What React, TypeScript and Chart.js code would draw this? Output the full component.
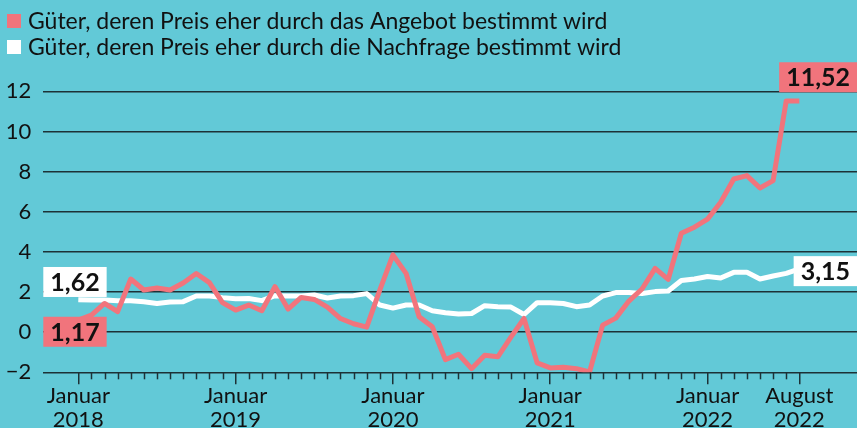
import React, { useEffect, useRef } from "react";
import { Chart, registerables } from "chart.js";

Chart.register(...registerables);

// ---- data ----
const monthIndex: number[] = Array.from({ length: 56 }, (_, i) => i); // Jan 2018 .. Aug 2022

const supplyValues: number[] = [
  0.6, 0.85, 1.43, 1.02, 2.65, 2.1, 2.2, 2.1, 2.45, 2.92, 2.47, 1.47,
  1.1, 1.35, 1.07, 2.27, 1.15, 1.73, 1.63, 1.25, 0.68, 0.42, 0.25, 2.1,
  3.85, 2.93, 0.77, 0.27, -1.37, -1.1, -1.82, -1.15, -1.23, -0.25, 0.68, -1.53,
  -1.78, -1.75, -1.82, -1.98, 0.35, 0.7, 1.55, 2.15, 3.18, 2.63, 4.93, 5.23,
  5.63, 6.47, 7.63, 7.8, 7.18, 7.55, 11.52, 11.52,
];

const demandValues: number[] = [
  1.62, 1.6, 1.6, 1.57, 1.57, 1.52, 1.43, 1.5, 1.52, 1.8, 1.8, 1.72,
  1.66, 1.68, 1.57, 1.82, 1.8, 1.8, 1.85, 1.7, 1.8, 1.82, 1.92, 1.35,
  1.2, 1.35, 1.35, 1.07, 0.97, 0.9, 0.93, 1.32, 1.27, 1.25, 0.88, 1.47,
  1.47, 1.43, 1.27, 1.35, 1.8, 1.97, 1.98, 1.93, 2.02, 2.05, 2.57, 2.65,
  2.77, 2.7, 2.98, 2.98, 2.65, 2.8, 2.93, 3.15,
];

const majorTickIndex: number[] = [0, 12, 24, 36, 48, 55];
const majorTickLabels: string[][] = [
  ["Januar", "2018"],
  ["Januar", "2019"],
  ["Januar", "2020"],
  ["Januar", "2021"],
  ["Januar", "2022"],
  ["August", "2022"],
];

const yTickValues: number[] = [-2, 0, 2, 4, 6, 8, 10, 12];

const seriesNames: string[] = [
  "Güter, deren Preis eher durch das Angebot bestimmt wird",
  "Güter, deren Preis eher durch die Nachfrage bestimmt wird",
];

// value callouts: text, anchor side, y-value of box centre, colour key
const callouts = [
  { text: "1,62", side: "left", yValue: 2.5, kind: "demand" },
  { text: "1,17", side: "left", yValue: 0.02, kind: "supply" },
  { text: "11,52", side: "right", yValue: 12.7, kind: "supply" },
  { text: "3,15", side: "right", yValue: 3.04, kind: "demand" },
];

// ---- styles ----
const BG = "#62c9d7";
const RED = "#f1747c";
const WHITE = "#ffffff";
const GRID = "#1c3136";
const TEXT = "#111111";
const FONT = "Lato, 'Noto Sans', sans-serif";

const decor = {
  id: "decor",
  beforeDraw(chart: any) {
    const { ctx, width, height } = chart;
    ctx.save();
    ctx.fillStyle = BG;
    ctx.fillRect(0, 0, width, height);
    ctx.restore();
  },
  afterDraw(chart: any) {
    const { ctx, chartArea } = chart;
    const xs = chart.scales.x;
    const ys = chart.scales.y;
    ctx.save();
    // minor month ticks
    ctx.strokeStyle = GRID;
    ctx.lineWidth = 1.5;
    for (const i of monthIndex) {
      if (majorTickIndex.includes(i)) continue;
      const px = Math.round(xs.getPixelForValue(i)) + 0.5;
      ctx.beginPath();
      ctx.moveTo(px, chartArea.bottom);
      ctx.lineTo(px, chartArea.bottom + 7);
      ctx.stroke();
    }
    // legend
    ctx.font = `23px ${FONT}`;
    ctx.textBaseline = "alphabetic";
    ctx.textAlign = "left";
    const colors = [RED, WHITE];
    const baselines = [29, 55];
    seriesNames.forEach((name, k) => {
      ctx.fillStyle = colors[k];
      ctx.fillRect(7, baselines[k] - 15, 14, 14);
      ctx.fillStyle = TEXT;
      ctx.fillText(name, 28, baselines[k]);
    });
    // callouts
    ctx.font = `bold 25px ${FONT}`;
    ctx.textBaseline = "middle";
    for (const c of callouts) {
      const tw = ctx.measureText(c.text).width;
      const bw = tw + 14;
      const bh = 30;
      const cy = ys.getPixelForValue(c.yValue);
      const bx = c.side === "left" ? chartArea.left : chartArea.right - bw;
      ctx.fillStyle = c.kind === "supply" ? RED : WHITE;
      ctx.fillRect(bx, cy - bh / 2, bw, bh);
      ctx.fillStyle = TEXT;
      ctx.textAlign = "left";
      ctx.fillText(c.text, bx + 7, cy + 1);
    }
    ctx.restore();
  },
};

export default function App() {
  const ref = useRef<HTMLCanvasElement | null>(null);

  useEffect(() => {
    if (!ref.current) return;
    const chart = new Chart(ref.current, {
      type: "line",
      data: {
        datasets: [
          {
            label: seriesNames[0],
            data: monthIndex.map((i) => ({ x: i, y: supplyValues[i] })),
            borderColor: RED,
            borderWidth: 5,
            pointRadius: 0,
            tension: 0,
            borderJoinStyle: "round",
            fill: false,
          },
          {
            label: seriesNames[1],
            data: monthIndex.map((i) => ({ x: i, y: demandValues[i] })),
            borderColor: WHITE,
            borderWidth: 5,
            pointRadius: 0,
            tension: 0,
            borderJoinStyle: "round",
            fill: false,
          },
        ],
      },
      options: {
        animation: false,
        responsive: true,
        maintainAspectRatio: false,
        layout: { padding: { top: 91.3, left: 0, right: 0, bottom: 0 } },
        plugins: {
          legend: { display: false },
          tooltip: { enabled: false },
        },
        scales: {
          x: {
            type: "linear",
            min: -2.67,
            max: 59.4,
            afterBuildTicks: (s: any) => {
              s.ticks = majorTickIndex.map((v) => ({ value: v }));
            },
            afterFit: (s: any) => {
              s.height = 55.7;
            },
            ticks: {
              autoSkip: false,
              maxRotation: 0,
              minRotation: 0,
              padding: 0,
              color: TEXT,
              font: { family: FONT, size: 22, lineHeight: 1.08 },
              callback: (v: any) => {
                const k = majorTickIndex.indexOf(Number(v));
                return k >= 0 ? majorTickLabels[k] : "";
              },
            },
            grid: {
              display: true,
              drawOnChartArea: false,
              drawTicks: true,
              tickLength: 12,
              color: GRID,
              lineWidth: 1.5,
            },
            border: { display: false },
          },
          y: {
            type: "linear",
            min: -2,
            max: 12,
            afterBuildTicks: (s: any) => {
              s.ticks = yTickValues.map((v) => ({ value: v }));
            },
            afterFit: (s: any) => {
              s.width = 43.3;
            },
            ticks: {
              padding: 12,
              color: TEXT,
              font: { family: FONT, size: 22 },
              callback: (v: any) => (Number(v) < 0 ? "\u2212" + Math.abs(Number(v)) : String(v)),
            },
            grid: {
              color: GRID,
              lineWidth: 1.5,
              drawTicks: false,
            },
            border: { display: false },
          },
        },
      },
      plugins: [decor],
    });
    return () => chart.destroy();
  }, []);

  return (
    <div style={{ position: "fixed", left: 0, top: 0, width: 857, height: 428, background: BG }}>
      <canvas ref={ref} />
    </div>
  );
}
